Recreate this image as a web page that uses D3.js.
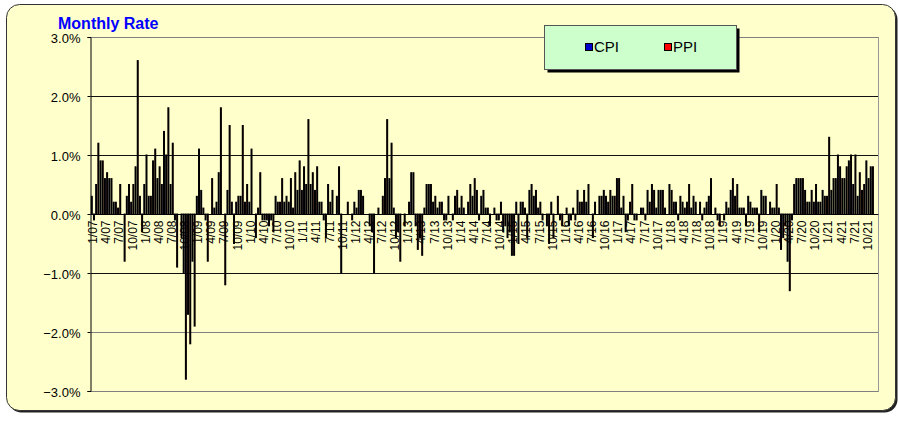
<!DOCTYPE html>
<html>
<head>
<meta charset="utf-8">
<script src="https://cdn.jsdelivr.net/npm/d3@7"></script>
<style>
    body { margin: 0; background: #fff; }
    svg text { font-family: "Liberation Sans", Arial, sans-serif; }
</style>
</head>
<body>
<div id="chart"></div>
<script>
'use strict';

// two digit years of the categories, one category per month
const years = ['07', '08', '09', '10', '11', '12', '13', '14', '15', '16', '17', '18', '19', '20', '21'];

// monthly % change, Jan..Dec of each year
const cpiRates = [
    0.3, 0.5, 0.9, 0.6, 0.6, 0.2, 0.1, 0.0, 0.3, 0.2, 0.8, 0.3,       // 07
    0.5, 0.3, 0.9, 0.6, 0.5, 1.0, 0.5, -0.1, 0.0, -1.0, -1.7, -0.8,   // 08
    0.3, 0.4, -0.1, 0.0, 0.1, 0.7, 0.0, 0.4, 0.2, 0.2, 0.3, 0.2,      // 09
    0.2, 0.0, 0.1, -0.1, -0.1, -0.1, 0.3, 0.2, 0.2, 0.2, 0.1, 0.4,    // 10
    0.4, 0.5, 0.5, 0.4, 0.2, -0.1, 0.5, 0.4, 0.3, -1.0, 0.0, 0.0,     // 11
    0.2, 0.4, 0.3, 0.0, -0.3, 0.0, 0.0, 0.6, 0.6, 0.1, -0.3, 0.0,     // 12
    0.0, 0.7, -0.2, -0.4, 0.1, 0.5, 0.2, 0.1, 0.2, -0.1, 0.0, 0.3,    // 13
    0.1, 0.1, 0.2, 0.3, 0.4, 0.3, 0.1, -0.2, 0.1, -0.1, -0.3, -0.4,   // 14
    -0.7, 0.2, 0.2, 0.1, 0.4, 0.3, 0.1, -0.1, -0.2, 0.2, 0.0, -0.1,   // 15
    0.0, -0.2, 0.1, 0.4, 0.2, 0.2, 0.0, 0.2, 0.3, 0.4, 0.2, 0.3,      // 16
    0.6, 0.1, -0.3, 0.2, -0.1, 0.0, 0.1, 0.4, 0.5, 0.1, 0.4, 0.1,     // 17
    0.5, 0.2, -0.1, 0.2, 0.2, 0.1, 0.2, 0.2, 0.1, 0.3, 0.0, -0.1,     // 18
    0.0, 0.2, 0.4, 0.3, 0.1, 0.1, 0.3, 0.1, 0.1, 0.4, 0.3, 0.2,       // 19
    0.1, 0.1, -0.4, -0.8, -0.1, 0.6, 0.6, 0.4, 0.2, 0.2, 0.2, 0.4,    // 20
    0.3, 0.4, 0.6, 0.8, 0.6, 0.9, 0.5, 0.3, 0.4, 0.9, 0.8, null       // 21
];

const ppiRates = [
    -0.1, 1.2, 0.9, 0.7, 0.6, 0.2, 0.5, -0.8, 0.5, 0.5, 2.6, -0.3,    // 07
    1.0, 0.3, 1.1, 0.8, 1.4, 1.8, 1.2, -0.9, -0.4, -2.8, -2.2, -1.9,  // 08
    1.1, 0.1, -0.8, 0.6, 0.2, 1.8, -1.2, 1.5, -0.5, 0.3, 1.5, 0.5,    // 09
    1.1, -0.4, 0.7, -0.1, -0.2, -0.3, 0.2, 0.6, 0.3, 0.6, 0.7, 0.9,   // 10
    0.8, 1.6, 0.7, 0.8, 0.2, -0.4, 0.2, 0.0, 0.8, 0.0, 0.2, -0.1,     // 11
    0.1, 0.4, 0.0, -0.2, -1.0, 0.1, 0.3, 1.6, 1.2, -0.4, -0.8, -0.2,  // 12
    0.2, 0.7, -0.6, -0.7, 0.5, 0.5, 0.3, 0.2, -0.1, 0.3, -0.1, 0.4,   // 13
    0.3, 0.0, 0.5, 0.6, -0.1, 0.4, 0.1, 0.0, -0.1, 0.2, -0.2, -0.3,   // 14
    -0.7, -0.5, 0.2, -0.4, 0.5, 0.4, 0.2, 0.0, -0.5, -0.4, 0.3, -0.2, // 15
    0.1, -0.1, -0.1, 0.2, 0.4, 0.5, -0.4, 0.0, 0.3, 0.3, 0.4, 0.3,    // 16
    0.6, 0.3, -0.1, 0.5, -0.1, 0.1, -0.1, 0.2, 0.4, 0.4, 0.4, 0.0,    // 17
    0.4, 0.2, 0.3, 0.1, 0.5, 0.3, 0.0, -0.1, 0.2, 0.6, 0.1, -0.2,     // 18
    -0.1, 0.1, 0.6, 0.5, 0.1, -0.2, 0.2, 0.1, -0.3, 0.3, 0.0, 0.1,    // 19
    0.5, -0.6, -0.2, -1.3, 0.5, 0.6, 0.6, 0.2, 0.4, 0.5, 0.2, 0.3,    // 20
    1.3, 0.6, 1.0, 0.6, 0.8, 1.0, 1.0, 0.7, 0.5, 0.6, 0.8, null       // 21
];

const seriesNames = ['CPI', 'PPI'];
const seriesColors = ['#0000cc', '#ff0000'];
const yTicks = [-3, -2, -1, 0, 1, 2, 3];

class RateBarChart {
    constructor(divId, width, height, options) {
        options = this.handleOptions(options);
        this.width = width;
        this.height = height;
        this.options = options;

        this.svg = d3.select('#' + divId).append('svg')
            .attr('width', width)
            .attr('height', height);
    }

    handleOptions(options) {
        if (!options) {
            options = {};
        }
        if (!options.plot) {
            options.plot = {left: 90.7, right: 878.4, top: 37, bottom: 391};
        }
        if (!options.background) {
            options.background = '#ffffcc';
        }
        return options;
    }

    setData(categories, series) {
        this.categories = categories;
        this.series = series;
    }

    renderFrame() {
        let svg = this.svg;
        // drop shadow then the rounded chart area
        svg.append('rect')
            .attr('x', 8.5).attr('y', 6.5)
            .attr('width', 889).attr('height', 406)
            .attr('rx', 13).attr('ry', 13)
            .style('fill', '#222');
        svg.append('rect')
            .attr('x', 6.5).attr('y', 4.5)
            .attr('width', 889).attr('height', 406)
            .attr('rx', 13).attr('ry', 13)
            .style('fill', this.options.background)
            .style('stroke', '#333')
            .style('stroke-width', 1);

        svg.append('text')
            .attr('x', 58).attr('y', 29)
            .style('font-size', '16px')
            .style('font-weight', 'bold')
            .style('fill', '#0000ff')
            .text('Monthly Rate');
    }

    renderAxis() {
        let self = this;
        let p = self.options.plot;
        let svg = self.svg;

        // horizontal grid lines
        svg.append('g').selectAll('line').data(yTicks).enter()
            .append('line')
            .attr('x1', p.left).attr('x2', p.right)
            .attr('y1', function (d) { return Math.round(self.y(d)) + 0.5; })
            .attr('y2', function (d) { return Math.round(self.y(d)) + 0.5; })
            .style('stroke', function (d) { return (d === 3 || d === -2 || d === -3) ? '#808080' : '#111'; })
            .style('stroke-width', 1);

        // right border of the plot area
        svg.append('line')
            .attr('x1', Math.round(p.right) + 0.5).attr('x2', Math.round(p.right) + 0.5)
            .attr('y1', p.top).attr('y2', p.bottom + 1)
            .style('stroke', '#999');

        let yAxis = svg.append('g')
            .attr('transform', 'translate(' + (Math.round(p.left) - 0.5) + ',0)')
            .call(d3.axisLeft(self.y)
                .tickValues(yTicks)
                .tickSize(3)
                .tickPadding(7)
                .tickFormat(function (d) { return d3.format('.1f')(d) + '%'; }));
        yAxis.select('.domain').style('stroke', '#000');
        yAxis.selectAll('.tick line').style('stroke', '#000');
        yAxis.selectAll('text')
            .attr('dy', '0.4em')
            .style('font-size', '13px')
            .style('font-family', '"Liberation Sans", Arial, sans-serif')
            .style('fill', '#000');

        let tickLabels = self.categories.filter(function (d, i) { return i % 3 === 0; });
        let xAxis = svg.append('g')
            .attr('class', 'x-axis')
            .attr('transform', 'translate(0,' + (Math.round(self.y(0)) + 0.5) + ')')
            .call(d3.axisBottom(self.x).tickValues(tickLabels).tickSize(0));
        xAxis.select('.domain').remove();
        xAxis.selectAll('text')
            .attr('transform', 'rotate(-90)')
            .attr('x', -6)
            .attr('y', 0)
            .attr('dy', '0.36em')
            .style('text-anchor', 'end')
            .style('font-size', '12px')
            .style('font-family', '"Liberation Sans", Arial, sans-serif')
            .style('fill', '#000');
    }

    renderLegend() {
        let svg = this.svg;
        let g = svg.append('g').attr('transform', 'translate(544,25)');
        g.append('rect')
            .attr('x', 3.5).attr('y', 3.5)
            .attr('width', 192).attr('height', 44)
            .style('fill', '#000');
        g.append('rect')
            .attr('x', 0.5).attr('y', 0.5)
            .attr('width', 192).attr('height', 44)
            .style('fill', '#ccffcc')
            .style('stroke', '#555');

        let items = g.selectAll('.legend-item').data(seriesNames).enter()
            .append('g')
            .attr('class', 'legend-item')
            .attr('transform', function (d, i) { return 'translate(' + (41 + i * 79) + ',0)'; });
        items.append('rect')
            .attr('x', 0.5).attr('y', 18.5)
            .attr('width', 7).attr('height', 7)
            .style('fill', function (d, i) { return seriesColors[i]; })
            .style('stroke', '#000');
        items.append('text')
            .attr('x', 9).attr('y', 27)
            .style('font-size', '15px')
            .style('fill', '#000')
            .text(function (d) { return d; });
    }

    render() {
        let self = this;
        let p = self.options.plot;

        self.x = d3.scaleBand()
            .domain(self.categories)
            .range([p.left, p.right])
            .paddingInner(0)
            .paddingOuter(0);

        self.inner = d3.scaleBand()
            .domain(seriesNames)
            .range([0, self.x.bandwidth()]);

        self.y = d3.scaleLinear()
            .domain([-3, 3])
            .range([p.bottom, p.top]);

        this.renderFrame();
        this.renderAxis();

        let rows = [];
        self.categories.forEach(function (c, i) {
            self.series.forEach(function (s, k) {
                if (s[i] !== null) {
                    rows.push({cat: c, name: seriesNames[k], color: seriesColors[k], value: s[i]});
                }
            });
        });

        // thin bars: the black outline covers nearly all of the fill, as in the original
        let bw = self.inner.bandwidth();
        self.svg.append('g').selectAll('.bar').data(rows).enter()
            .append('rect')
            .attr('class', 'bar')
            .attr('x', function (d) { return self.x(d.cat) + self.inner(d.name) + 0.6; })
            .attr('y', function (d) { return self.y(Math.max(0, d.value)); })
            .attr('width', bw - 1.2)
            .attr('height', function (d) { return Math.abs(self.y(d.value) - self.y(0)); })
            .style('fill', function (d) { return d.color; })
            .style('stroke', '#000')
            .style('stroke-width', 1);

        // zero line on top of the bars
        self.svg.append('line')
            .attr('x1', p.left).attr('x2', p.right)
            .attr('y1', Math.round(self.y(0)) + 0.5)
            .attr('y2', Math.round(self.y(0)) + 0.5)
            .style('stroke', '#000');

        this.renderLegend();
    }
}

let categories = [];
years.forEach(function (yy) {
    for (let m = 1; m <= 12; m++) {
        categories.push(m + '/' + yy);
    }
});

let chart = new RateBarChart('chart', 899, 422);
chart.setData(categories, [cpiRates, ppiRates]);
chart.render();
</script>
</body>
</html>
